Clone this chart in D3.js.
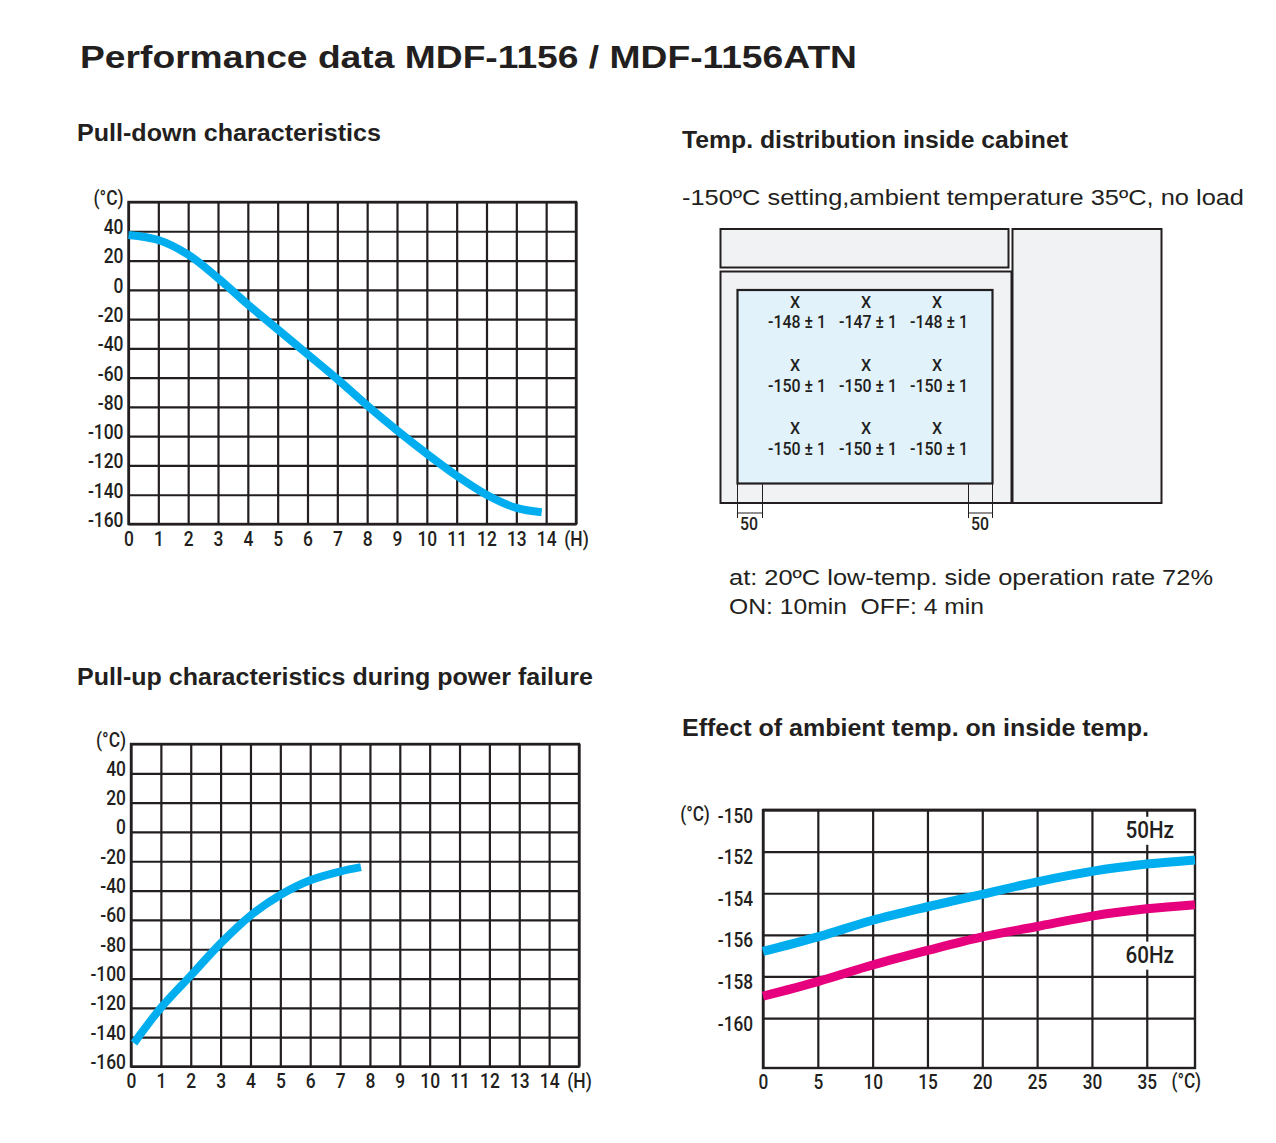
<!DOCTYPE html>
<html>
<head>
<meta charset="utf-8">
<script src="https://cdn.jsdelivr.net/npm/d3@7/dist/d3.min.js"></script>
<style>
  body { margin: 0; background: #fff; }
  svg { display: block; }
  .narrow { font-family: Roboto, "Liberation Sans", sans-serif; font-weight: 500; }
  .sans { font-family: "Liberation Sans", Arial, Helvetica, sans-serif; }
</style>
</head>
<body>
<svg id="sheet"></svg>
<script>
// ---- data ----
// pull-down characteristics (hours -> inside temp)
const pullDownHours = [0, 1, 2, 3, 4, 5, 6, 7, 8, 9, 10, 11, 12, 13, 13.85];
const pullDownTemps = [37.5, 34, 24, 8, -10, -27, -44, -61, -79, -96, -112, -127, -140, -149, -152];

// pull-up during power failure
const pullUpHours = [0.1, 1, 2, 3, 4, 5, 6, 7, 7.7];
const pullUpTemps = [-144, -120, -98, -76, -57, -43, -33, -27, -24];

// ambient temp effect
const ambientTemps = [0, 5, 10, 15, 20, 25, 30, 35, 39.4];
const inside50Hz = [-156.8, -156.1, -155.3, -154.65, -154.05, -153.45, -152.95, -152.6, -152.4];
const inside60Hz = [-158.95, -158.25, -157.45, -156.75, -156.1, -155.6, -155.1, -154.75, -154.55];

// cabinet distribution readings (top row first), tolerance ±1
const cabinetRows = [
  [-148, -147, -148],
  [-150, -150, -150],
  [-150, -150, -150]
];
const cabinetTolerance = 1;
const cabinetMargin = 50;

// tick labels
const hourTicks = d3.range(0, 16);           // 15 => "(H)"
const tempTicks = d3.range(-160, 61, 20);    // 60 => "(°C)"
const ambientTicks = d3.range(0, 36, 5);
const insideTicks = d3.range(-160, -149, 2);

const INK = "#231f20";
const BLUE = "#00aeef";
const MAGENTA = "#e6007e";

const svg = d3.select("#sheet").attr("width", 1276).attr("height", 1143);

// squeeze a text horizontally (no condensed face installed)
function condense(sel, f) {
  sel.each(function () {
    const len = this.getComputedTextLength();
    d3.select(this).attr("textLength", len * f).attr("lengthAdjust", "spacingAndGlyphs");
  });
}

// ---- headings ----
function heading(text, x, y, size, weight, len) {
  return svg.append("text")
    .attr("class", "sans")
    .attr("x", x).attr("y", y)
    .attr("font-size", size)
    .attr("font-weight", weight)
    .attr("fill", INK)
    .attr("dominant-baseline", "middle")
    .style("white-space", "pre")
    .attr("textLength", len).attr("lengthAdjust", "spacingAndGlyphs")
    .text(text);
}

heading("Performance data MDF-1156 / MDF-1156ATN", 80, 60, 31, "bold", 777);
heading("Pull-down characteristics", 77, 135, 23, "bold", 304);
heading("Temp. distribution inside cabinet", 682, 142, 23, "bold", 386);
heading("Pull-up characteristics during power failure", 77, 679, 23, "bold", 516);
heading("Effect of ambient temp. on inside temp.", 682, 730, 23, "bold", 467);
heading("-150ºC setting,ambient temperature 35ºC, no load", 682, 199, 22, "normal", 562);
heading("at: 20ºC low-temp. side operation rate 72%", 729, 579, 22, "normal", 484);
heading("ON: 10min  OFF: 4 min", 729, 608, 22, "normal", 255);

// ---- grid charts ----
function gridChart(cfg) {
  const g = svg.append("g");
  const x = d3.scaleLinear().domain(cfg.xDomain).range([cfg.left, cfg.right]);
  const y = d3.scaleLinear().domain(cfg.yDomain).range([cfg.bottom, cfg.top]);
  const h = cfg.bottom - cfg.top;
  const w = cfg.right - cfg.left;

  // vertical grid + x labels
  const xa = g.append("g")
    .attr("transform", `translate(0,${cfg.bottom})`)
    .call(d3.axisBottom(x).tickValues(cfg.xTicks).tickSize(-h)
      .tickPadding(cfg.xPad).tickFormat(cfg.xFormat));
  // horizontal grid + y labels
  const ya = g.append("g")
    .attr("transform", `translate(${cfg.left},0)`)
    .call(d3.axisLeft(y).tickValues(cfg.yTicks).tickSize(-w)
      .tickPadding(cfg.yPad).tickFormat(cfg.yFormat));

  [xa, ya].forEach(a => {
    a.attr("font-family", null).attr("font-size", null);
    a.select(".domain").remove();
    a.selectAll("line").attr("stroke", INK).attr("stroke-width", 2.2);
    a.selectAll("text")
      .attr("class", "narrow")
      .attr("fill", INK)
      .attr("font-size", cfg.fontSize);
  });
  ya.selectAll("text").attr("dy", cfg.yDy);
  xa.selectAll("text").attr("dy", "0.71em");
  condense(xa.selectAll("text"), cfg.squeeze);
  condense(ya.selectAll("text"), cfg.squeeze);

  // frame
  g.append("rect")
    .attr("x", cfg.left).attr("y", cfg.top)
    .attr("width", w).attr("height", h)
    .attr("fill", "none").attr("stroke", INK).attr("stroke-width", 2.4);

  return { g, x, y };
}

function curve(chart, xs, ys, color, width) {
  const line = d3.line()
    .x(d => chart.x(d[0]))
    .y(d => chart.y(d[1]))
    .curve(d3.curveCatmullRom.alpha(0.5));
  chart.g.append("path")
    .datum(d3.zip(xs, ys))
    .attr("d", line)
    .attr("fill", "none")
    .attr("stroke", color)
    .attr("stroke-width", width)
    .attr("stroke-linecap", "butt");
}

const hourFmt = d => d === 15 ? "(H)" : d;
const tempFmt = d => d === 60 ? "(°C)" : d;

// pull-down chart
const pullDown = gridChart({
  left: 128.5, right: 576, top: 202, bottom: 524,
  xDomain: [0, 15], yDomain: [-160, 60],
  xTicks: hourTicks, yTicks: tempTicks,
  xFormat: hourFmt, yFormat: tempFmt,
  xPad: 8, yPad: 5, yDy: "0.12em", fontSize: 20, squeeze: 0.87
});
curve(pullDown, pullDownHours, pullDownTemps, BLUE, 8);

// pull-up chart
const pullUp = gridChart({
  left: 131, right: 579, top: 744, bottom: 1066.5,
  xDomain: [0, 15], yDomain: [-160, 60],
  xTicks: hourTicks, yTicks: tempTicks,
  xFormat: hourFmt, yFormat: tempFmt,
  xPad: 7, yPad: 5, yDy: "0.1em", fontSize: 20, squeeze: 0.87
});
curve(pullUp, pullUpHours, pullUpTemps, BLUE, 8);

// ambient chart
const ambient = gridChart({
  left: 763, right: 1195, top: 810, bottom: 1068,
  xDomain: [0, 39.4], yDomain: [-162.4, -150],
  xTicks: ambientTicks, yTicks: insideTicks,
  xFormat: d => d, yFormat: d => d,
  xPad: 7, yPad: 10, yDy: "0.6em", fontSize: 20, squeeze: 0.86
});
curve(ambient, ambientTemps, inside50Hz, BLUE, 9);
curve(ambient, ambientTemps, inside60Hz, MAGENTA, 9);

// unit labels for ambient chart
const units = [
  ambient.g.append("text").attr("x", ambient.x(38.6)).attr("y", 1083).text("(°C)"),
  ambient.g.append("text").attr("x", 695).attr("y", ambient.y(-150) + 6).text("(°C)")
];
units.forEach(t => {
  t.attr("class", "narrow")
    .attr("text-anchor", "middle").attr("dominant-baseline", "middle")
    .attr("font-size", 20).attr("fill", INK);
  condense(t, 0.86);
});

// series labels on the 35°C line
[
  { label: "50Hz", v: -151 },
  { label: "60Hz", v: -157 }
].forEach(s => {
  const cx = ambient.x(35), cy = ambient.y(s.v);
  ambient.g.append("rect")
    .attr("x", cx - 27).attr("y", cy - 14)
    .attr("width", 54).attr("height", 28)
    .attr("fill", "#fff");
  const t = ambient.g.append("text")
    .attr("class", "narrow")
    .attr("x", cx + 3).attr("y", cy + 1)
    .attr("text-anchor", "middle").attr("dominant-baseline", "middle")
    .attr("font-size", 24).attr("fill", INK)
    .text(s.label);
  condense(t, 0.86);
});
// frame top edge back over the 50Hz background
ambient.g.append("line")
  .attr("x1", ambient.x(0)).attr("x2", ambient.x(39.4))
  .attr("y1", 810).attr("y2", 810)
  .attr("stroke", INK).attr("stroke-width", 2.4);

// ---- cabinet diagram ----
const cab = svg.append("g");
const boxStyle = sel => sel.attr("fill", "#f1f2f4").attr("stroke", INK).attr("stroke-width", 2);
boxStyle(cab.append("rect").attr("x", 720.5).attr("y", 229).attr("width", 288).attr("height", 38.5));
boxStyle(cab.append("rect").attr("x", 720.5).attr("y", 271.5).attr("width", 291).attr("height", 231.5));
boxStyle(cab.append("rect").attr("x", 1012.5).attr("y", 229).attr("width", 149).attr("height", 274));
cab.append("rect")
  .attr("x", 737.5).attr("y", 290).attr("width", 255).attr("height", 193.5)
  .attr("fill", "#e1f2fb").attr("stroke", INK).attr("stroke-width", 2.2);

const colScale = d3.scalePoint().domain([0, 1, 2]).range([797, 939]);
const rowScale = d3.scalePoint().domain([0, 1, 2]).range([303.5, 430]);

cabinetRows.forEach((row, ri) => {
  row.forEach((v, ci) => {
    const cx = colScale(ci), cy = rowScale(ri);
    cab.append("text")
      .attr("class", "narrow")
      .attr("x", cx - 2).attr("y", cy)
      .attr("text-anchor", "middle").attr("dominant-baseline", "middle")
      .attr("font-size", 16).attr("font-weight", 600).attr("fill", INK)
      .text("X");
    cab.append("text")
      .attr("class", "narrow")
      .attr("x", cx).attr("y", cy + 20)
      .attr("text-anchor", "middle").attr("dominant-baseline", "middle")
      .attr("font-size", 18).attr("fill", INK)
      .style("white-space", "pre")
      .attr("textLength", 58).attr("lengthAdjust", "spacingAndGlyphs")
      .text(`${v} ± ${cabinetTolerance}`);
  });
});

// margin dimension marks
[[737.5, 762.5, 740], [968.5, 992.5, 971]].forEach(([a, b, tx]) => {
  cab.append("line").attr("x1", a).attr("x2", a).attr("y1", 483.5).attr("y2", 518)
    .attr("stroke", INK).attr("stroke-width", 1);
  cab.append("line").attr("x1", b).attr("x2", b).attr("y1", 483.5).attr("y2", 518)
    .attr("stroke", INK).attr("stroke-width", 1);
  cab.append("line").attr("x1", a).attr("x2", b).attr("y1", 513).attr("y2", 513)
    .attr("stroke", INK).attr("stroke-width", 1);
  const t = cab.append("text")
    .attr("class", "narrow")
    .attr("x", tx).attr("y", 525.5)
    .attr("dominant-baseline", "middle")
    .attr("font-size", 18).attr("fill", INK)
    .text(cabinetMargin);
  condense(t, 0.88);
});
</script>
</body>
</html>
